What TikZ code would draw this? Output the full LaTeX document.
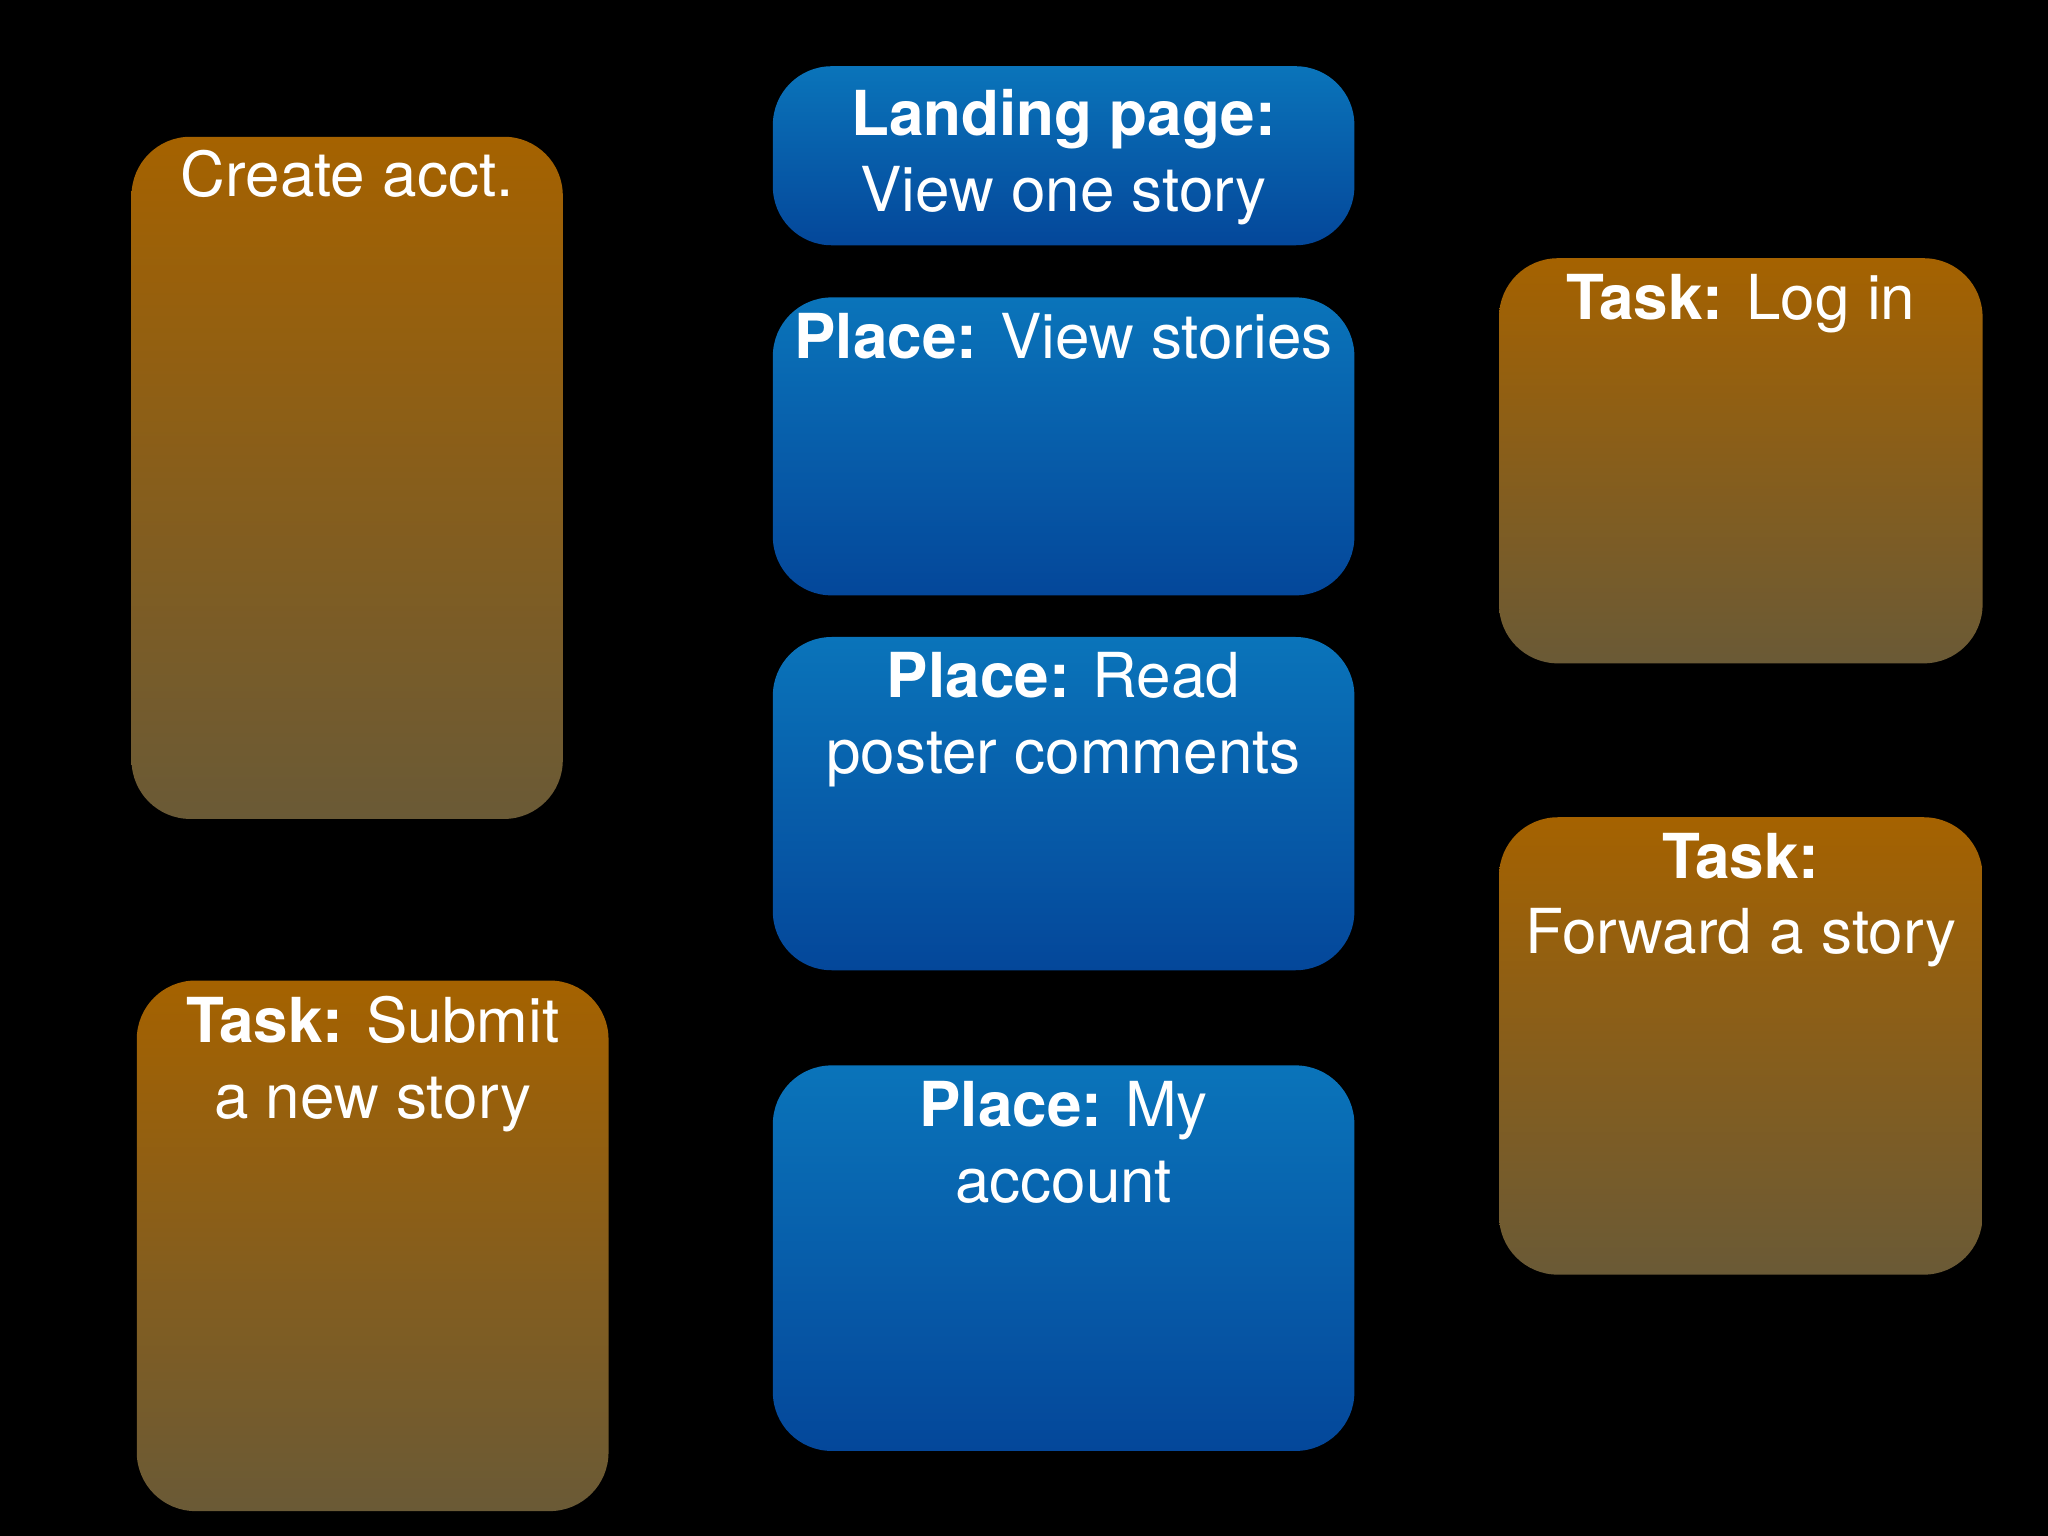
\documentclass[tikz,border=0pt]{standalone}
\usepackage{fontspec}
\setmainfont{TeX Gyre Heros}
\definecolor{otop}{HTML}{A56200}
\definecolor{obot}{HTML}{6A5A36}
\definecolor{btop}{HTML}{0A74BA}
\definecolor{bbot}{HTML}{04479A}
\tikzset{
  card/.style={rounded corners=0.45cm, anchor=north west, inner sep=0pt},
  obox/.style={card, top color=otop, bottom color=obot},
  bbox/.style={card, top color=btop, bottom color=bbot},
  lbl/.style={text=white, align=center, anchor=north, font=\fontsize{13.5}{16.5}\selectfont, inner sep=0pt}
}
\newcommand{\bx}[1]{\textbf{#1}}
\begin{document}
\begin{tikzpicture}[x=0.01cm,y=-0.01cm]
\fill[black] (0,0) rectangle (1568,1176);
\useasboundingbox (0,0) rectangle (1568,1176);
\node[obox, minimum width=3.30cm, minimum height=5.22cm] (create) at (100,104) {};
\node[bbox, minimum width=4.45cm, minimum height=1.37cm] (landing) at (591,50) {};
\node[bbox, minimum width=4.45cm, minimum height=2.28cm] (stories) at (591,227) {};
\node[bbox, minimum width=4.45cm, minimum height=2.55cm] (read) at (591,487) {};
\node[bbox, minimum width=4.45cm, minimum height=2.95cm] (account) at (591,815) {};
\node[obox, minimum width=3.70cm, minimum height=3.10cm] (login) at (1147,197) {};
\node[obox, minimum width=3.70cm, minimum height=3.50cm] (forward) at (1147,625) {};
\node[obox, minimum width=3.61cm, minimum height=4.06cm] (submit) at (104,750) {};

\node[lbl] (t1) at ([yshift=-0.1cm]create.north) {Create acct.};
\node[lbl] (t2) at ([yshift=-0.18cm]landing.north) {\bx{Landing page:}\\View one story};
\node[lbl] (t3) at ([yshift=-0.12cm]stories.north) {\bx{Place:} View stories};
\node[lbl] (t4) at ([yshift=-0.12cm]read.north) {\bx{Place:} Read\\poster comments};
\node[lbl] (t5) at ([yshift=-0.12cm]account.north) {\bx{Place:} My\\account};
\node[lbl] (t6) at ([yshift=-0.12cm]login.north) {\bx{Task:} Log in};
\node[lbl] (t7) at ([yshift=-0.12cm]forward.north) {\bx{Task:}\\Forward a story};
\node[lbl] (t8) at ([yshift=-0.12cm]submit.north) {\bx{Task:} Submit\\a new story};
\end{tikzpicture}
\end{document}
